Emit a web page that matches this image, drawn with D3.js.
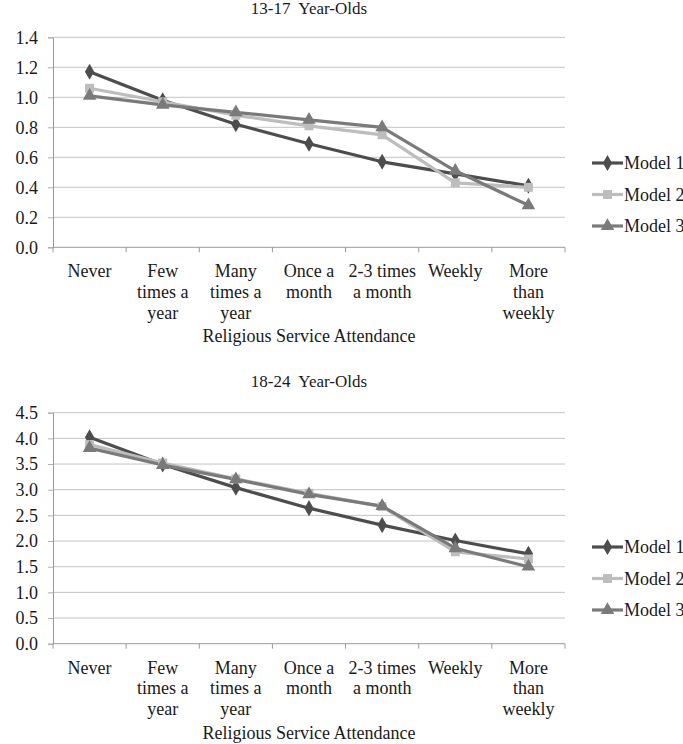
<!DOCTYPE html>
<html>
<head>
<meta charset="utf-8">
<script src="https://cdn.jsdelivr.net/npm/d3@7"></script>
<style>
  body { margin: 0; background: #fff; }
  svg { display: block; font-family: "Liberation Serif", "Times New Roman", serif; }
</style>
</head>
<body>
<div class="canvas"></div>
<script>
// data
const categories = ["Never", "Few times a year", "Many times a year", "Once a month",
                    "2-3 times a month", "Weekly", "More than weekly"];
const categoryLines = [["Never"], ["Few", "times a", "year"], ["Many", "times a", "year"],
                       ["Once a", "month"], ["2-3 times", "a month"], ["Weekly"], ["More", "than", "weekly"]];
const seriesNames = ["Model 1", "Model 2", "Model 3"];

const teenModel1 = [1.17, 0.98, 0.82, 0.69, 0.57, 0.49, 0.41];
const teenModel2 = [1.06, 0.97, 0.88, 0.81, 0.75, 0.43, 0.40];
const teenModel3 = [1.01, 0.95, 0.90, 0.85, 0.80, 0.51, 0.28];
const teenTicks = [0, 0.2, 0.4, 0.6, 0.8, 1.0, 1.2, 1.4];

const adultModel1 = [4.02, 3.49, 3.04, 2.64, 2.31, 2.01, 1.75];
const adultModel2 = [3.88, 3.52, 3.21, 2.93, 2.67, 1.79, 1.65];
const adultModel3 = [3.81, 3.48, 3.20, 2.91, 2.68, 1.86, 1.50];
const adultTicks = [0, 0.5, 1.0, 1.5, 2.0, 2.5, 3.0, 3.5, 4.0, 4.5];

const colours = ["#4d4d4d", "#bdbdbd", "#7a7a7a"];
const symbols = [d3.symbolDiamond, d3.symbolSquare, d3.symbolTriangle];
const symbolSizes = [75, 80, 80];
const fontSize = 18;

const svg = d3.select('.canvas')
  .append('svg')
  .attr('width', 683)
  .attr('height', 744);

function drawChart(opts) {
  const left = 53, right = 565;
  const g = svg.append('g');

  const x = d3.scaleBand().domain(categories).range([left, right]);
  const y = d3.scaleLinear().domain([0, opts.ticks[opts.ticks.length - 1]])
    .range([opts.bottom, opts.top]);

  // gridlines
  g.append('g').selectAll('line')
    .data(opts.ticks.slice(1))
    .enter().append('line')
      .attr('x1', left).attr('x2', right)
      .attr('y1', d => y(d)).attr('y2', d => y(d))
      .attr('stroke', '#c4c4c4').attr('stroke-width', 1);

  const yAxis = d3.axisLeft(y)
    .tickValues(opts.ticks)
    .tickSize(5)
    .tickPadding(10)
    .tickFormat(d3.format('.1f'));

  const yAxisGroup = g.append('g')
    .attr('transform', `translate(${left}, 0)`)
    .call(yAxis);
  yAxisGroup.select('.domain').attr('stroke', '#9a9a9a');
  yAxisGroup.selectAll('.tick line').attr('stroke', '#b0b0b0');
  yAxisGroup.selectAll('text')
    .attr('font-size', fontSize)
    .attr('font-family', '"Liberation Serif", serif')
    .attr('fill', '#1a1a1a');

  // x axis with boundary ticks
  const xAxisGroup = g.append('g');
  xAxisGroup.append('line')
    .attr('x1', left).attr('x2', right)
    .attr('y1', opts.bottom).attr('y2', opts.bottom)
    .attr('stroke', '#9a9a9a');
  const bounds = categories.map(c => x(c)).concat([right]);
  xAxisGroup.selectAll('.xtick')
    .data(bounds)
    .enter().append('line')
      .attr('x1', d => d).attr('x2', d => d)
      .attr('y1', opts.bottom).attr('y2', opts.bottom + 5)
      .attr('stroke', '#9a9a9a');

  const labels = xAxisGroup.selectAll('.xlabel')
    .data(categories)
    .enter().append('text')
      .attr('x', d => x(d) + x.bandwidth() / 2)
      .attr('y', opts.bottom + 30)
      .attr('text-anchor', 'middle')
      .attr('font-size', fontSize)
      .attr('fill', '#1a1a1a');
  labels.each(function(d, i) {
    d3.select(this).selectAll('tspan')
      .data(categoryLines[i])
      .enter().append('tspan')
        .attr('x', x(d) + x.bandwidth() / 2)
        .attr('dy', (t, j) => j === 0 ? 0 : 20.7)
        .text(t => t);
  });

  g.append('text')
    .attr('x', (left + right) / 2)
    .attr('y', opts.bottom + 95)
    .attr('text-anchor', 'middle')
    .attr('font-size', fontSize)
    .attr('fill', '#1a1a1a')
    .text('Religious Service Attendance');

  g.append('text')
    .attr('x', (left + right) / 2)
    .attr('y', opts.titleY)
    .attr('text-anchor', 'middle')
    .attr('font-size', fontSize - 1)
    .attr('fill', '#1a1a1a')
    .style('white-space', 'pre')
    .text(opts.title);

  const line = d3.line()
    .x((d, i) => x(categories[i]) + x.bandwidth() / 2)
    .y(d => y(d));

  opts.series.forEach((values, s) => {
    g.append('path')
      .datum(values)
      .attr('fill', 'none')
      .attr('stroke', colours[s])
      .attr('stroke-width', 3.2)
      .attr('stroke-linejoin', 'round')
      .attr('d', line);
  });
  opts.series.forEach((values, s) => {
    g.append('g').selectAll('path')
      .data(values)
      .enter().append('path')
        .attr('d', d3.symbol().type(symbols[s]).size(symbolSizes[s]))
        .attr('transform', (d, i) => `translate(${x(categories[i]) + x.bandwidth() / 2}, ${y(d)})`)
        .attr('fill', colours[s]);
  });

  // legend
  const legend = g.selectAll('.legend')
    .data(seriesNames)
    .enter().append('g')
      .attr('transform', (d, i) => `translate(592, ${opts.legendTop + i * 31.5})`);
  legend.append('line')
    .attr('x1', 0).attr('x2', 31)
    .attr('stroke', (d, i) => colours[i])
    .attr('stroke-width', 3.2);
  legend.append('path')
    .attr('d', (d, i) => d3.symbol().type(symbols[i]).size(symbolSizes[i])())
    .attr('transform', 'translate(15.5, 0)')
    .attr('fill', (d, i) => colours[i]);
  legend.append('text')
    .attr('x', 32)
    .attr('y', 6)
    .attr('font-size', fontSize)
    .attr('fill', '#1a1a1a')
    .text(d => d);
}

drawChart({
  title: '13-17  Year-Olds', titleY: 14,
  top: 37.3, bottom: 247.3, ticks: teenTicks, legendTop: 163,
  series: [teenModel1, teenModel2, teenModel3]
});

drawChart({
  title: '18-24  Year-Olds', titleY: 387,
  top: 412.7, bottom: 643.7, ticks: adultTicks, legendTop: 547,
  series: [adultModel1, adultModel2, adultModel3]
});
</script>
</body>
</html>
